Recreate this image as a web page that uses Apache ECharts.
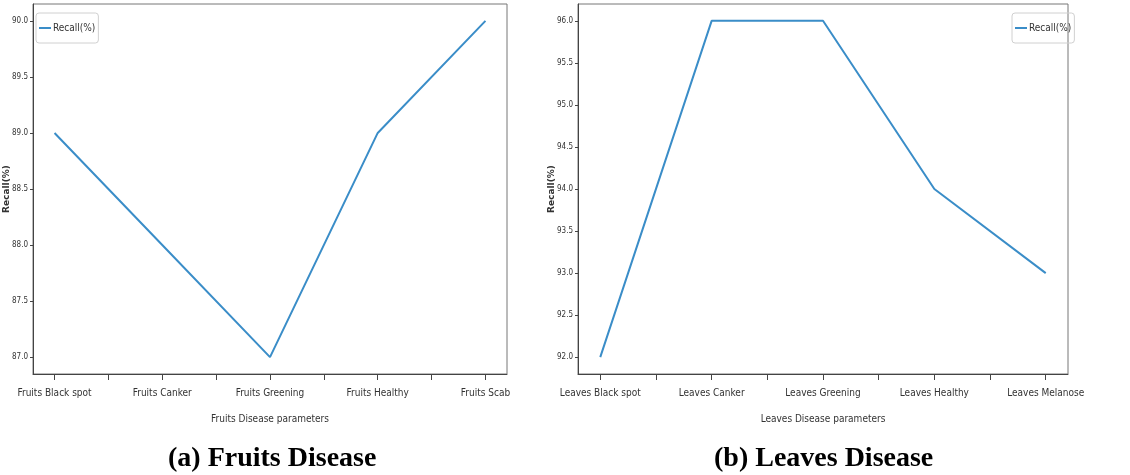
<!DOCTYPE html>
<html>
<head>
<meta charset="utf-8">
<script src="https://cdn.jsdelivr.net/npm/echarts@6/dist/echarts.min.js"></script>
<style>
html,body{margin:0;padding:0;background:#fff;}
#c{width:1130px;height:475px;}
</style>
</head>
<body>
<div id="c"></div>
<script>
const fruitCategories = ['Fruits Black spot', 'Fruits Canker', 'Fruits Greening', 'Fruits Healthy', 'Fruits Scab'];
const fruitRecall = [89.0, 88.0, 87.0, 89.0, 90.0];
const fruitYTicks = [87.0, 87.5, 88.0, 88.5, 89.0, 89.5, 90.0];

const leafCategories = ['Leaves Black spot', 'Leaves Canker', 'Leaves Greening', 'Leaves Healthy', 'Leaves Melanose'];
const leafRecall = [92.0, 96.0, 96.0, 94.0, 93.0];
const leafYTicks = [92.0, 92.5, 93.0, 93.5, 94.0, 94.5, 95.0, 95.5, 96.0];

const xTickPositions = [0, 0.5, 1, 1.5, 2, 2.5, 3, 3.5, 4];
const xLabelPositions = [0, 1, 2, 3, 4];

const seriesName = 'Recall(%)';
const LINE = '#3a8dc8';
const NARROW = "'Liberation Sans Narrow', 'DejaVu Sans Condensed', 'Liberation Sans', sans-serif";

function xAxisFor(cats, name, gridIndex) {
  return {
    type: 'value', gridIndex, min: -0.2, max: 4.2,
    name, nameLocation: 'middle', nameGap: 40, nameMoveOverlap: false,
    nameTextStyle: {fontFamily: NARROW, fontSize: 10, color: '#333'},
    splitLine: {show: false},
    axisLine: {show: true, onZero: false, lineStyle: {color: '#444', width: 1}},
    axisTick: {show: true, customValues: xTickPositions, length: 6, lineStyle: {color: '#444'}},
    axisLabel: {customValues: xLabelPositions, margin: 14, fontFamily: NARROW, fontSize: 10, color: '#333',
      formatter: v => cats[Math.round(v)]}
  };
}
function yAxisFor(min, max, ticks, gridIndex) {
  return {
    type: 'value', gridIndex, min, max,
    name: 'Recall(%)', nameLocation: 'middle', nameGap: 22, nameMoveOverlap: false,
    nameTextStyle: {fontFamily: "'DejaVu Sans', sans-serif", fontSize: 9, fontWeight: 'bold', color: '#333'},
    splitLine: {show: false},
    axisLine: {show: true, onZero: false, lineStyle: {color: '#444', width: 1}},
    axisTick: {show: true, customValues: ticks, length: 3, lineStyle: {color: '#444'}},
    axisLabel: {customValues: ticks, margin: 5, fontFamily: NARROW, fontSize: 8, color: '#333',
      formatter: v => v.toFixed(1)}
  };
}
function legendAt(left) {
  return {
    data: [seriesName], left, top: 13, orient: 'vertical',
    icon: 'rect', itemWidth: 12, itemHeight: 2, itemGap: 2,
    borderColor: '#d0d0d0', borderWidth: 1, borderRadius: 3,
    padding: [10, 3, 10, 3],
    textStyle: {fontFamily: NARROW, fontSize: 10, color: '#333', padding: [0, 0, 0, -3]}
  };
}

const chart = echarts.init(document.getElementById('c'));
chart.setOption({
  backgroundColor: '#fff',
  animation: false,
  title: [
    {text: '(a) Fruits Disease', left: 163, top: 440,
      textStyle: {fontFamily: "'Liberation Serif', 'Times New Roman', serif", fontWeight: 'bold', fontSize: 28, color: '#000'}},
    {text: '(b) Leaves Disease', left: 709, top: 440,
      textStyle: {fontFamily: "'Liberation Serif', 'Times New Roman', serif", fontWeight: 'bold', fontSize: 28, color: '#000'}}
  ],
  legend: [legendAt(36), legendAt(1012)],
  grid: [
    {left: 33, top: 4, width: 474, height: 370, show: true, borderColor: '#777', borderWidth: 1,
      containLabel: false, outerBoundsMode: 'none'},
    {left: 578, top: 4, width: 490, height: 370, show: true, borderColor: '#777', borderWidth: 1,
      containLabel: false, outerBoundsMode: 'none'}
  ],
  xAxis: [xAxisFor(fruitCategories, 'Fruits Disease parameters', 0), xAxisFor(leafCategories, 'Leaves Disease parameters', 1)],
  yAxis: [yAxisFor(86.85, 90.15, fruitYTicks, 0), yAxisFor(91.8, 96.2, leafYTicks, 1)],
  series: [
    {name: seriesName, type: 'line', xAxisIndex: 0, yAxisIndex: 0, symbol: 'none',
      lineStyle: {color: LINE, width: 2}, itemStyle: {color: LINE},
      data: fruitRecall.map((v, i) => [i, v])},
    {name: seriesName, type: 'line', xAxisIndex: 1, yAxisIndex: 1, symbol: 'none',
      lineStyle: {color: LINE, width: 2}, itemStyle: {color: LINE},
      data: leafRecall.map((v, i) => [i, v])}
  ]
});
</script>
</body>
</html>
